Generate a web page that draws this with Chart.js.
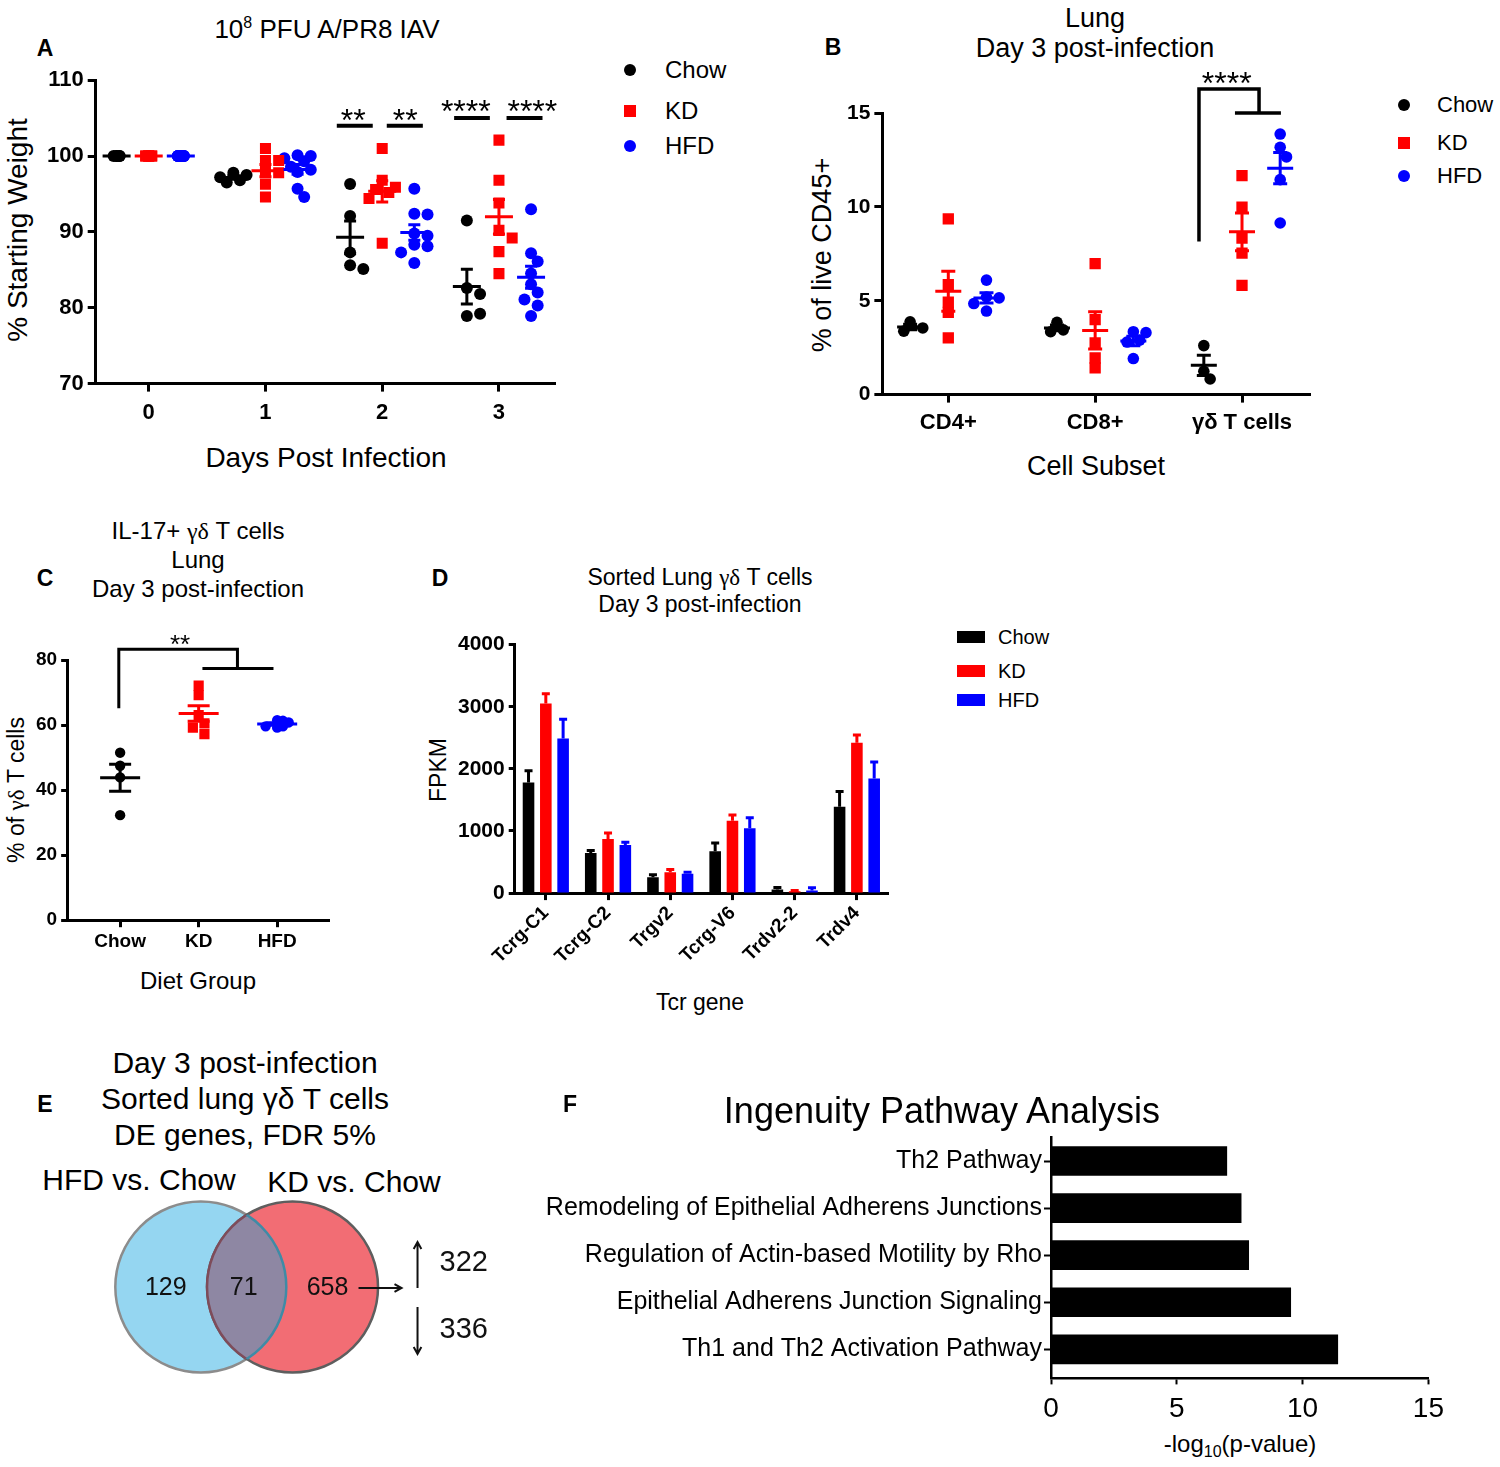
<!DOCTYPE html>
<html>
<head>
<meta charset="utf-8">
<title>Diet and influenza: weight, gamma-delta T cells, Tcr genes, DE genes, IPA</title>
<script src="https://cdn.jsdelivr.net/npm/chart.js@4.4.1/dist/chart.umd.min.js"></script>
<style>
  body { margin: 0; width: 1500px; height: 1467px; position: relative; overflow: hidden; background: #fff;
         font-family: "Liberation Sans", Arial, sans-serif; color: #000; }
  canvas { position: absolute; }
  .t { position: absolute; white-space: nowrap; line-height: 1; transform: translate(-50%, -50%); }
  .l { position: absolute; white-space: nowrap; line-height: 1; transform: translateY(-50%); }
  .v { position: absolute; white-space: nowrap; line-height: 1; transform: translate(-50%, -50%) rotate(-90deg); }
  .p { font-weight: bold; font-size: 23px; }
  .g { font-family: "Liberation Serif", "DejaVu Serif", serif; }
  .dot, .sq, .bar { position: absolute; transform: translate(-50%, -50%); }
  .dot { width: 12px; height: 12px; border-radius: 50%; }
  .sq { width: 12px; height: 12px; }
  .bar { width: 28px; height: 12px; }
</style>
</head>
<body>

<!-- Panel A -->
<div class="t p" style="left:45px;top:48px">A</div>
<div class="t" style="left:327px;top:28px;font-size:26px">10<span style="font-size:16px;vertical-align:10px">8</span> PFU A/PR8 IAV</div>
<div class="v" style="left:18px;top:230px;font-size:28px">% Starting Weight</div>
<div class="t" style="left:326px;top:458px;font-size:28px">Days Post Infection</div>
<div class="dot" style="left:630px;top:70px;background:#000"></div>
<div class="l" style="left:665px;top:70px;font-size:24px">Chow</div>
<div class="sq" style="left:630px;top:111px;background:#f00"></div>
<div class="l" style="left:665px;top:111px;font-size:24px">KD</div>
<div class="dot" style="left:630px;top:146px;background:#00f"></div>
<div class="l" style="left:665px;top:146px;font-size:24px">HFD</div>
<canvas id="weightChart" width="600" height="400"></canvas>

<!-- Panel B -->
<div class="t p" style="left:833px;top:47px">B</div>
<div class="t" style="left:1095px;top:18px;font-size:27px">Lung</div>
<div class="t" style="left:1095px;top:48px;font-size:27px">Day 3 post-infection</div>
<div class="v" style="left:822px;top:255px;font-size:27px">% of live CD45+</div>
<div class="t" style="left:1096px;top:466px;font-size:27px">Cell Subset</div>
<div class="dot" style="left:1404px;top:105px;background:#000"></div>
<div class="l" style="left:1437px;top:105px;font-size:22px">Chow</div>
<div class="sq" style="left:1404px;top:143px;background:#f00"></div>
<div class="l" style="left:1437px;top:143px;font-size:22px">KD</div>
<div class="dot" style="left:1404px;top:176px;background:#00f"></div>
<div class="l" style="left:1437px;top:176px;font-size:22px">HFD</div>
<canvas id="subsetChart" width="600" height="400"></canvas>

<!-- Panel C -->
<div class="t p" style="left:45px;top:578px">C</div>
<div class="t" style="left:198px;top:531px;font-size:24px">IL-17+ <span class="g">γδ</span> T cells</div>
<div class="t" style="left:198px;top:560px;font-size:24px">Lung</div>
<div class="t" style="left:198px;top:589px;font-size:24px">Day 3 post-infection</div>
<div class="v" style="left:16px;top:790px;font-size:23px">% of <span class="g">γδ</span> T cells</div>
<div class="t" style="left:198px;top:981px;font-size:24px">Diet Group</div>
<canvas id="il17Chart" width="600" height="400"></canvas>

<!-- Panel D -->
<div class="t p" style="left:440px;top:578px">D</div>
<div class="t" style="left:700px;top:577px;font-size:23px">Sorted Lung <span class="g">γδ</span> T cells</div>
<div class="t" style="left:700px;top:604px;font-size:23px">Day 3 post-infection</div>
<div class="v" style="left:438px;top:770px;font-size:23px">FPKM</div>
<div class="t" style="left:700px;top:1002px;font-size:23px">Tcr gene</div>
<div class="bar" style="left:971px;top:637px;background:#000"></div>
<div class="l" style="left:998px;top:637px;font-size:20px">Chow</div>
<div class="bar" style="left:971px;top:671px;background:#f00"></div>
<div class="l" style="left:998px;top:671px;font-size:20px">KD</div>
<div class="bar" style="left:971px;top:700px;background:#00f"></div>
<div class="l" style="left:998px;top:700px;font-size:20px">HFD</div>
<canvas id="tcrChart" width="600" height="400"></canvas>

<!-- Panel E -->
<div class="t p" style="left:45px;top:1104px">E</div>
<div class="t" style="left:245px;top:1063px;font-size:30px">Day 3 post-infection</div>
<div class="t" style="left:245px;top:1099px;font-size:30px">Sorted lung γδ T cells</div>
<div class="t" style="left:245px;top:1135px;font-size:30px">DE genes, FDR 5%</div>
<div class="t" style="left:139px;top:1180px;font-size:30px">HFD vs. Chow</div>
<div class="t" style="left:354px;top:1182px;font-size:30px">KD vs. Chow</div>
<canvas id="vennChart" width="420" height="200"></canvas>

<!-- Panel F -->
<div class="t p" style="left:570px;top:1104px">F</div>
<div class="t" style="left:942px;top:1111px;font-size:36px">Ingenuity Pathway Analysis</div>
<div class="t" style="left:1240px;top:1446px;font-size:24px">-log<sub style="font-size:16px">10</sub>(p-value)</div>
<canvas id="ipaChart" width="1000" height="400"></canvas>

<script>
// ---------------- data ----------------
const groups = ['Chow', 'KD', 'HFD'];

// A: % of starting weight for each mouse, days 0-3
const days = [0, 1, 2, 3];
const weightChow = [
  [100, 100, 100, 100, 100],
  [97.8, 97.5, 97.2, 96.8, 96.5],
  [96.3, 92.1, 87.3, 85.6, 85.1],
  [91.5, 82.6, 81.8, 78.9, 79.2]
];
const weightKD = [
  [100, 100, 100, 100, 100, 100, 100],
  [101, 99.4, 99.4, 98, 97.8, 96.3, 94.6],
  [101, 96.8, 95.9, 95.6, 95.2, 94.4, 88.5],
  [102.1, 96.8, 93.8, 90.2, 89.2, 87.4, 84.5]
];
const weightHFD = [
  [100, 100, 100, 100, 100, 100, 100, 100, 100],
  [100.1, 100, 99.7, 99.3, 98.6, 98.2, 97.9, 95.7, 94.6],
  [95.7, 92.4, 92.3, 89.8, 89.5, 88.3, 88.1, 87.3, 85.9],
  [93, 87.2, 86.1, 84.5, 83.1, 82, 81.1, 80.3, 78.9]
];

// B: % of live CD45+ by cell subset
const cellSubsets = ['CD4+', 'CD8+', 'γδ T cells'];
const cd45Chow = [[3.88, 3.55, 3.38], [3.85, 3.45, 3.35], [2.61, 1.24, 0.83]];
const cd45KD = [[9.36, 5.86, 4.93, 4.38, 3.02], [6.98, 3.99, 2.75, 1.95, 1.42], [11.66, 9.99, 8.34, 7.54, 5.82]];
const cd45HFD = [[6.1, 5.2, 5.15, 4.85, 4.45], [3.35, 3.3, 2.9, 2.8, 1.92], [13.88, 13.17, 12.66, 11.45, 9.14]];

// C: IL-17+ % of gamma-delta T cells
const il17Chow = [51.5, 47.5, 43.9, 32.3];
const il17KD = [72.1, 69.2, 63.1, 60.5, 59.2, 57.2];
const il17HFD = [61.5, 60.8, 59.6, 59.2, 59.6, 61.3];

// D: FPKM (mean and SEM)
const tcrGenes = ['Tcrg-C1', 'Tcrg-C2', 'Trgv2', 'Tcrg-V6', 'Trdv2-2', 'Trdv4'];
const fpkmChow = [1781, 647, 257, 674, 59, 1390];
const fpkmChowSem = [187, 37, 37, 133, 32, 246];
const fpkmKD = [3053, 872, 337, 1166, 32, 2422];
const fpkmKDSem = [156, 96, 43, 91, 11, 123];
const fpkmHFD = [2487, 775, 310, 1043, 43, 1845];
const fpkmHFDSem = [310, 43, 27, 171, 43, 267];

// E: DE genes
const vennSets = ['HFD vs. Chow', 'KD vs. Chow'];
const vennCounts = [129, 71, 658];
const kdUpDown = [322, 336];

// F: IPA
const pathways = ['Th2 Pathway', 'Remodeling of Epithelial Adherens Junctions',
  'Regulation of Actin-based Motility by Rho', 'Epithelial Adherens Junction Signaling',
  'Th1 and Th2 Activation Pathway'];
const pathwayLogP = [7.0, 7.57, 7.87, 9.54, 11.41];

// ---------------- setup ----------------
const sans = '"Liberation Sans", Arial, sans-serif';
Chart.defaults.font.family = sans;
Chart.defaults.color = '#000';
Chart.defaults.animation = false;
Chart.defaults.plugins.legend.display = false;
Chart.defaults.plugins.tooltip.enabled = false;

const colors = ['#000000', '#ff0000', '#0000ff'];

// spread points of one group sideways so they don't sit on each other
function swarm(values, center, pxPerX, pxPerY, diam) {
  if (values.every(v => v === values[0])) {
    // identical values: keep them in a tight blob
    return values.map((v, i) => ({x: center + [0, 0.25, -0.25][i % 3] * diam / pxPerX, y: v}));
  }
  const step = diam * 0.55;
  const offsets = [0, step, -step, 2 * step, -2 * step];
  const placed = [];
  return values.map(v => {
    let best = 0, bestGap = -1;
    for (const off of offsets) {
      let gap = Infinity;
      for (const q of placed) gap = Math.min(gap, Math.hypot(off - q.off, (v - q.v) * pxPerY));
      if (gap >= diam * 0.85) { best = off; break; }
      if (gap > bestGap + 0.5) { bestGap = gap; best = off; }
    }
    placed.push({off: best, v});
    return {x: center + best / pxPerX, y: v};
  });
}

// mean line with SEM whiskers
function meanSemPlugin(items, half, cap) {
  return {
    id: 'meanSem',
    afterDatasetsDraw(chart) {
      const {ctx, scales: {x, y}} = chart;
      ctx.save();
      ctx.lineWidth = 3;
      items.forEach(it => {
        const n = it.values.length;
        const mean = it.values.reduce((s, v) => s + v, 0) / n;
        const sd = Math.sqrt(it.values.reduce((s, v) => s + (v - mean) ** 2, 0) / (n - 1));
        const sem = sd / Math.sqrt(n);
        const px = x.getPixelForValue(it.x);
        const pm = y.getPixelForValue(mean);
        const pt = y.getPixelForValue(mean + sem);
        const pb = y.getPixelForValue(mean - sem);
        ctx.strokeStyle = it.color;
        ctx.beginPath();
        ctx.moveTo(px - half, pm); ctx.lineTo(px + half, pm);
        ctx.moveTo(px, pt); ctx.lineTo(px, pb);
        ctx.moveTo(px - cap, pt); ctx.lineTo(px + cap, pt);
        ctx.moveTo(px - cap, pb); ctx.lineTo(px + cap, pb);
        ctx.stroke();
      });
      ctx.restore();
    }
  };
}

// significance bars / brackets and stars
function sigPlugin(spec) {
  return {
    id: 'sig',
    afterDraw(chart) {
      const {ctx, scales: {x, y}} = chart;
      ctx.save();
      ctx.strokeStyle = '#000';
      ctx.lineWidth = spec.width;
      ctx.lineJoin = 'miter';
      spec.paths.forEach(path => {
        ctx.beginPath();
        path.forEach(([vx, vy], i) => {
          const X = x.getPixelForValue(vx), Y = y.getPixelForValue(vy);
          if (i) ctx.lineTo(X, Y); else ctx.moveTo(X, Y);
        });
        ctx.stroke();
      });
      ctx.fillStyle = '#000';
      ctx.font = spec.size + 'px ' + sans;
      ctx.textAlign = 'center';
      ctx.textBaseline = 'alphabetic';
      spec.stars.forEach(s => {
        ctx.fillText(s.text, x.getPixelForValue(s.x), y.getPixelForValue(s.y) + spec.size * 0.28);
      });
      ctx.restore();
    }
  };
}

function axisLines(width, tick) {
  return {
    border: {display: true, color: '#000', width: width},
    grid: {drawOnChartArea: false, drawTicks: true, tickLength: tick, tickWidth: width, tickColor: '#000'}
  };
}

// resize/move the canvas so the plot area lands on the given box
function makeChart(id, area, config) {
  config.options.responsive = false;
  config.options.maintainAspectRatio = false;
  const chart = new Chart(document.getElementById(id), config);
  for (let pass = 0; pass < 3; pass++) {
    const a = chart.chartArea;
    const w = area[2] - area[0] + a.left + (chart.width - a.right);
    const h = area[3] - area[1] + a.top + (chart.height - a.bottom);
    chart.resize(Math.round(w), Math.round(h));
  }
  const a = chart.chartArea;
  chart.canvas.style.left = (area[0] - a.left) + 'px';
  chart.canvas.style.top = (area[1] - a.top) + 'px';
  return chart;
}

function scatterSets(series, pointSizes) {
  return groups.map((g, gi) => ({
    label: g,
    data: series[gi],
    pointStyle: gi === 1 ? 'rect' : 'circle',
    pointRadius: pointSizes[gi],
    backgroundColor: colors[gi],
    borderWidth: 0,
    showLine: false
  }));
}

// ---------------- A ----------------
(function () {
  const shift = [-0.275, 0, 0.275];
  const series = [weightChow, weightKD, weightHFD];
  const pts = series.map((s, gi) => days.flatMap((d, di) => swarm(s[di], d + shift[gi], 116.7, 7.575, 12)));
  const items = [];
  series.forEach((s, gi) => days.forEach((d, di) => items.push({x: d + shift[gi], values: s[di], color: colors[gi]})));
  makeChart('weightChart', [96, 80, 555, 383], {
    type: 'scatter',
    data: {datasets: scatterSets(pts, [6, 7.8, 6])},
    options: {
      layout: {padding: {top: 10, right: 10}},
      scales: {
        x: Object.assign({
          type: 'linear', min: -0.454, max: 3.48,
          afterBuildTicks: s => { s.ticks = days.map(v => ({value: v})); },
          ticks: {callback: v => String(v), autoSkip: false, maxRotation: 0, padding: 8, font: {size: 22, weight: 'bold'}}
        }, axisLines(3, 8)),
        y: Object.assign({
          min: 70, max: 110,
          ticks: {stepSize: 10, padding: 4, font: {size: 22, weight: 'bold'}}
        }, axisLines(3, 8))
      }
    },
    plugins: [meanSemPlugin(items, 14, 6), sigPlugin({
      width: 4, size: 32,
      paths: [[[1.611, 104], [1.919, 104]], [[2.039, 104], [2.348, 104]],
              [[2.616, 105.02], [2.922, 105.02]], [[3.065, 105.02], [3.373, 105.02]]],
      stars: [{x: 1.751, y: 104.5, text: '**'}, {x: 2.197, y: 104.5, text: '**'},
              {x: 2.716, y: 105.64, text: '****'}, {x: 3.286, y: 105.64, text: '****'}]
    })]
  });
})();

// ---------------- B ----------------
(function () {
  const shift = [-0.26, 0, 0.26];
  const series = [cd45Chow, cd45KD, cd45HFD];
  const pts = series.map((s, gi) => cellSubsets.flatMap((c, ci) => swarm(s[ci], ci + shift[gi], 147, 18.8, 11.5)));
  const items = [];
  series.forEach((s, gi) => cellSubsets.forEach((c, ci) => items.push({x: ci + shift[gi], values: s[ci], color: colors[gi]})));
  makeChart('subsetChart', [882, 113, 1310, 395], {
    type: 'scatter',
    data: {datasets: scatterSets(pts, [5.8, 8, 5.8])},
    options: {
      layout: {padding: {top: 45, right: 10}},
      scales: {
        x: Object.assign({
          type: 'linear', min: -0.449, max: 2.463,
          afterBuildTicks: s => { s.ticks = cellSubsets.map((c, i) => ({value: i})); },
          ticks: {callback: v => cellSubsets[v], autoSkip: false, maxRotation: 0, padding: 7, font: {size: 22, weight: 'bold'}}
        }, axisLines(3, 8)),
        y: Object.assign({
          min: 0, max: 15,
          ticks: {stepSize: 5, padding: 4, font: {size: 21, weight: 'bold'}}
        }, axisLines(3, 8))
      }
    },
    plugins: [meanSemPlugin(items, 13, 7), sigPlugin({
      width: 3.5, size: 32,
      paths: [[[1.707, 8.15], [1.707, 16.28], [2.116, 16.28], [2.116, 15.0]], [[1.952, 15.0], [2.265, 15.0]]],
      stars: [{x: 1.896, y: 16.49, text: '****'}]
    })]
  });
})();

// ---------------- C ----------------
(function () {
  const series = [il17Chow, il17KD, il17HFD];
  const pts = series.map((s, gi) => swarm(s, gi, 78.5, 3.25, 10.5));
  const items = series.map((s, gi) => ({x: gi, values: s, color: colors[gi]}));
  makeChart('il17Chart', [67, 660, 329, 920], {
    type: 'scatter',
    data: {datasets: scatterSets(pts, [5.2, 7.2, 5.2])},
    options: {
      layout: {padding: {top: 35, right: 10}},
      scales: {
        x: Object.assign({
          type: 'linear', min: -0.675, max: 2.66,
          afterBuildTicks: s => { s.ticks = groups.map((g, i) => ({value: i})); },
          ticks: {callback: v => groups[v], autoSkip: false, maxRotation: 0, padding: 3, font: {size: 19, weight: 'bold'}}
        }, axisLines(3, 7)),
        y: Object.assign({
          min: 0, max: 80,
          ticks: {stepSize: 20, padding: 4, font: {size: 19, weight: 'bold'}}
        }, axisLines(3, 6))
      }
    },
    plugins: [meanSemPlugin(items, 20, 11), sigPlugin({
      width: 3, size: 26,
      paths: [[[-0.017, 65.2], [-0.017, 83.3], [1.494, 83.3], [1.494, 77.4]], [[1.048, 77.4], [1.953, 77.4]]],
      stars: [{x: 0.764, y: 84.3, text: '**'}]
    })]
  });
})();

// ---------------- D ----------------
(function () {
  const sems = [fpkmChowSem, fpkmKDSem, fpkmHFDSem];
  const errPlugin = {
    id: 'errbars',
    afterDatasetsDraw(chart) {
      const {ctx, scales: {y}} = chart;
      ctx.save();
      ctx.lineWidth = 3;
      chart.data.datasets.forEach((ds, di) => {
        chart.getDatasetMeta(di).data.forEach((bar, i) => {
          const top = y.getPixelForValue(ds.data[i] + sems[di][i]);
          ctx.strokeStyle = ds.backgroundColor;
          ctx.beginPath();
          ctx.moveTo(bar.x, bar.y); ctx.lineTo(bar.x, top);
          ctx.moveTo(bar.x - 4, top); ctx.lineTo(bar.x + 4, top);
          ctx.stroke();
        });
      });
      ctx.restore();
    }
  };
  makeChart('tcrChart', [515, 645, 888, 894], {
    type: 'bar',
    data: {
      labels: tcrGenes,
      datasets: [fpkmChow, fpkmKD, fpkmHFD].map((d, gi) => ({
        label: groups[gi], data: d, backgroundColor: colors[gi], borderWidth: 0,
        categoryPercentage: 0.834, barPercentage: 0.67
      }))
    },
    options: {
      layout: {padding: {top: 10, right: 10}},
      scales: {
        x: Object.assign({}, axisLines(3, 7), {
          grid: {offset: false, drawOnChartArea: false, tickLength: 7, tickWidth: 3, tickColor: '#000'},
          ticks: {autoSkip: false, maxRotation: 45, minRotation: 45, padding: 2, font: {size: 19, weight: 'bold'}}
        }),
        y: Object.assign({
          min: 0, max: 4000,
          ticks: {stepSize: 1000, padding: 4, callback: v => String(v), font: {size: 21, weight: 'bold'}}
        }, axisLines(3, 6))
      }
    },
    plugins: [errPlugin]
  });
})();

// ---------------- E ----------------
(function () {
  function arrow(ctx, x1, y1, x2, y2) {
    const ang = Math.atan2(y2 - y1, x2 - x1), h = 8;
    ctx.beginPath();
    ctx.moveTo(x1, y1); ctx.lineTo(x2, y2);
    ctx.moveTo(x2 - h * Math.cos(ang - 0.5), y2 - h * Math.sin(ang - 0.5));
    ctx.lineTo(x2, y2);
    ctx.lineTo(x2 - h * Math.cos(ang + 0.5), y2 - h * Math.sin(ang + 0.5));
    ctx.stroke();
  }
  const vennPlugin = {
    id: 'venn',
    afterDatasetsDraw(chart) {
      const ctx = chart.ctx;
      const [p0, p1] = chart.getDatasetMeta(0).data;
      const r = p0.options.radius;
      const circle = p => { ctx.beginPath(); ctx.arc(p.x, p.y, r, 0, 2 * Math.PI); };
      ctx.save();
      circle(p0); ctx.clip();
      circle(p1);
      ctx.fillStyle = '#8e87a3'; ctx.fill();
      ctx.lineWidth = 2.5; ctx.strokeStyle = '#7e4c5a'; ctx.stroke();
      ctx.restore();
      ctx.save();
      circle(p1); ctx.clip();
      circle(p0);
      ctx.lineWidth = 2.5; ctx.strokeStyle = '#3f8ba6'; ctx.stroke();
      ctx.restore();

      ctx.save();
      ctx.fillStyle = '#111';
      ctx.textBaseline = 'middle';
      ctx.textAlign = 'center';
      ctx.font = '25px ' + sans;
      ctx.fillText(String(vennCounts[0]), p0.x - 35, p0.y + 1);
      ctx.fillText(String(vennCounts[1]), (p0.x + p1.x) / 2 - 3, p0.y + 1);
      ctx.fillText(String(vennCounts[2]), p1.x + 35, p0.y + 1);
      ctx.strokeStyle = '#111';
      ctx.lineWidth = 2;
      arrow(ctx, p1.x + 66, p0.y + 1, p1.x + 109, p0.y + 1);
      arrow(ctx, p1.x + 125, p0.y + 1, p1.x + 125, p0.y - 45);
      arrow(ctx, p1.x + 125, p0.y + 20, p1.x + 125, p0.y + 67);
      ctx.textAlign = 'left';
      ctx.font = '29px ' + sans;
      ctx.fillText(String(kdUpDown[0]), p1.x + 147, p0.y - 24);
      ctx.fillText(String(kdUpDown[1]), p1.x + 147, p0.y + 43);
      ctx.restore();
    }
  };
  makeChart('vennChart', [100, 1187, 520, 1387], {
    type: 'scatter',
    data: {
      datasets: [{
        label: 'DE genes',
        data: vennSets.map((s, i) => ({x: i, y: 0})),
        pointRadius: 85.5,
        backgroundColor: ['#95d6f1', '#f26d74'],
        borderColor: ['#8c8c8c', '#5e5e5e'],
        borderWidth: 2.5,
        clip: false
      }]
    },
    options: {
      layout: {padding: 0},
      scales: {
        x: {type: 'linear', display: false, min: -1.099, max: 3.48},
        y: {type: 'linear', display: false, min: -1, max: 1}
      }
    },
    plugins: [vennPlugin]
  });
})();

// ---------------- F ----------------
(function () {
  makeChart('ipaChart', [1051, 1137, 1428, 1378], {
    type: 'bar',
    data: {
      datasets: [{
        label: '-log10(p-value)',
        data: pathwayLogP.map((v, i) => ({x: v, y: i})),
        backgroundColor: '#000',
        borderWidth: 0,
        categoryPercentage: 1,
        barPercentage: 0.63
      }]
    },
    options: {
      indexAxis: 'y',
      layout: {padding: {top: 5, right: 20, left: 5}},
      scales: {
        y: {
          type: 'linear', reverse: true, min: -0.51, max: 4.617, offset: false,
          afterBuildTicks: s => { s.ticks = pathways.map((p, i) => ({value: i})); },
          // the long pathway names need more room than Chart.js allows a side axis by default
          afterFit: s => { s.width = 520; },
          ticks: {callback: v => pathways[v], autoSkip: false, padding: 2, font: {size: 25}},
          border: {display: true, color: '#000', width: 2.5},
          grid: {offset: false, drawOnChartArea: false, tickLength: 7, tickWidth: 2, tickColor: '#000'}
        },
        x: {
          type: 'linear', min: 0, max: 15,
          ticks: {stepSize: 5, padding: 8, maxRotation: 0, font: {size: 28}},
          border: {display: true, color: '#000', width: 2.5},
          grid: {drawOnChartArea: false, tickLength: 6, tickWidth: 2, tickColor: '#000'}
        }
      }
    }
  });
})();
</script>
</body>
</html>
